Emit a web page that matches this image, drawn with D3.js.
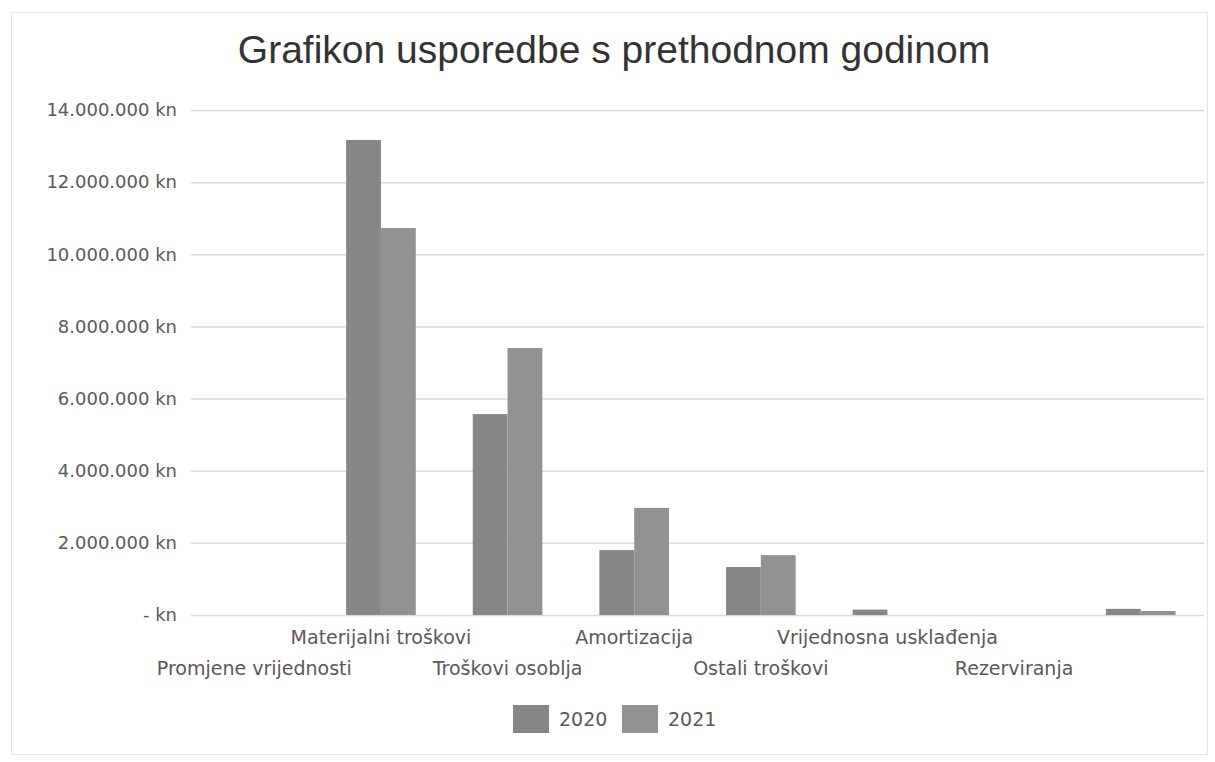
<!DOCTYPE html>
<html><head><meta charset="utf-8">
<script src="https://cdn.jsdelivr.net/npm/d3@7"></script>
<style>body{margin:0;background:#fff}svg{display:block}</style>
</head><body>
<svg id="c" width="1215" height="762"></svg>
<script>
const categories = ["Promjene vrijednosti","Materijalni troškovi","Troškovi osoblja","Amortizacija","Ostali troškovi","Vrijednosna usklađenja","Rezerviranja",""];
const series = ["2020","2021"];
const values2020 = [0, 13170000, 5570000, 1800000, 1330000, 150000, 0, 170000];
const values2021 = [0, 10730000, 7400000, 2970000, 1660000, 0, 0, 110000];
const yTicks = [0,2000000,4000000,6000000,8000000,10000000,12000000,14000000];
const title = "Grafikon usporedbe s prethodnom godinom";
const colors = ["#878787","#929292"];

const svg = d3.select("#c");
const m = {l:191, r:1204, t:110, b:615};
svg.append("rect").attr("x",11.5).attr("y",12.5).attr("width",1196).attr("height",742)
  .attr("fill","#fff").attr("stroke","#e6e6e6");

const x = d3.scaleBand().domain(d3.range(categories.length)).range([m.l,m.r]).paddingInner(0.45).paddingOuter(0.225);
const x1 = d3.scaleBand().domain(series).range([0,x.bandwidth()]);
const y = d3.scaleLinear().domain([0,14000000]).range([m.b,m.t]);

svg.append("text").attr("x",614).attr("y",63).attr("text-anchor","middle")
  .attr("font-family","Liberation Sans, Arial, sans-serif").attr("font-size",39)
  .attr("fill","#333").text(title);

const font = "DejaVu Sans, sans-serif";
const fmt = v => v===0 ? "- kn" : d3.format(",")(v).replace(/,/g,".")+" kn";
const ya = svg.append("g").attr("transform",`translate(${m.l},0)`)
  .call(d3.axisLeft(y).tickValues(yTicks).tickSize(-(m.r-m.l)).tickPadding(14).tickFormat(fmt));
ya.select(".domain").remove();
ya.selectAll(".tick line").attr("stroke","#d9d9d9").attr("stroke-width",1.5);
ya.selectAll(".tick text").attr("font-family",font)
  .attr("font-size",18).attr("fill","#595959");

const data = categories.map((c,i)=>({i, vals:[values2020[i],values2021[i]]}));
const g = svg.append("g");
g.selectAll("g").data(data).join("g").attr("transform",d=>`translate(${x(d.i)},0)`)
  .selectAll("rect").data(d=>d.vals.map((v,k)=>({k,v}))).join("rect")
  .attr("x",d=>x1(series[d.k])).attr("width",x1.bandwidth())
  .attr("y",d=>y(d.v)).attr("height",d=>y(0)-y(d.v)).attr("fill",d=>colors[d.k]);

const xa = svg.append("g").attr("transform",`translate(0,${m.b})`)
  .call(d3.axisBottom(x).tickSize(0).tickFormat(i=>categories[i]));
xa.select(".domain").remove();
xa.selectAll(".tick text").attr("font-family",font)
  .attr("font-size",19).attr("fill","#595959")
  .attr("dy",null).attr("y",(i)=> i%2===1 ? 29 : 60);

const lg = svg.append("g");
const lx = [513, 622];
series.forEach((s,k)=>{
  lg.append("rect").attr("x",lx[k]).attr("y",705).attr("width",36).attr("height",28).attr("fill",colors[k]);
  lg.append("text").attr("x",lx[k]+46).attr("y",726).attr("font-family",font)
    .attr("font-size",19).attr("fill","#595959").text(s);
});
</script>
</body></html>
